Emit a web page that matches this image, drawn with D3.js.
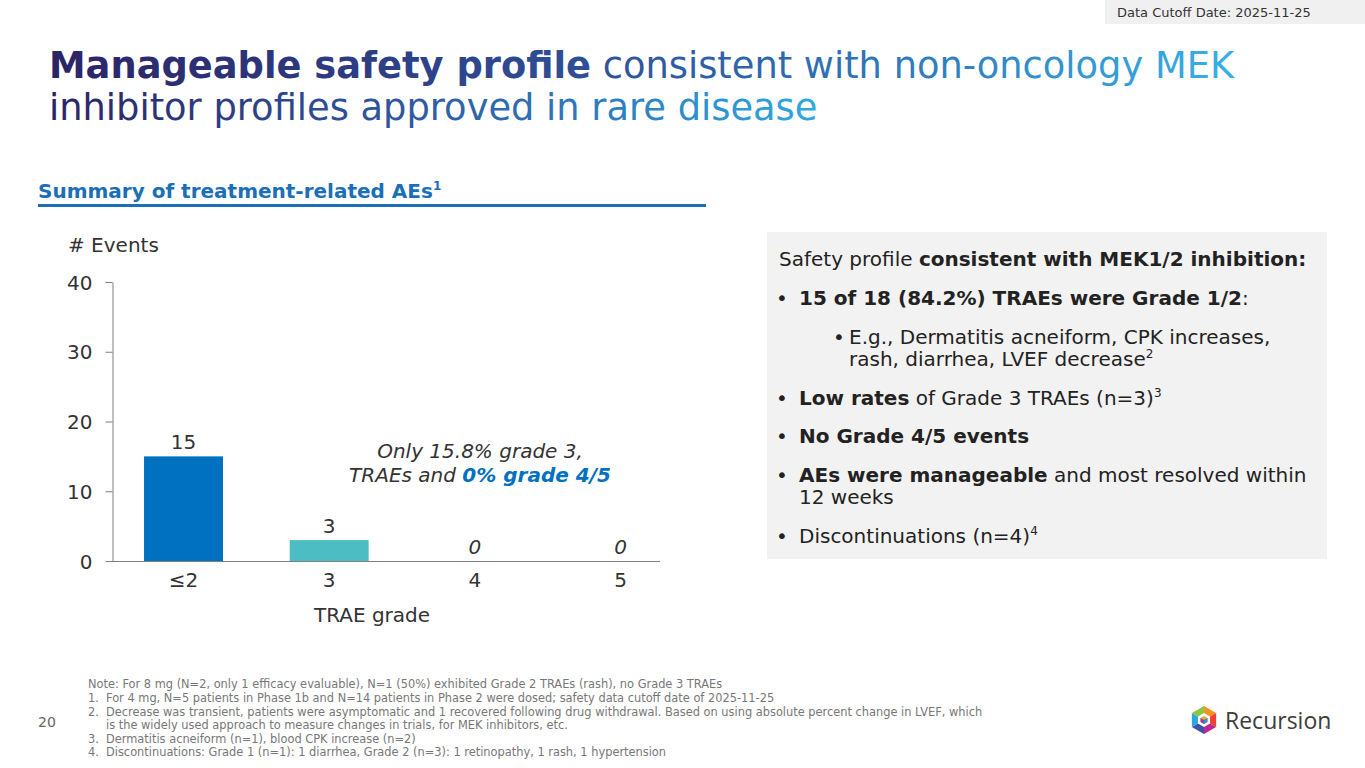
<!DOCTYPE html>
<html>
<head>
<meta charset="utf-8">
<script src="https://cdn.jsdelivr.net/npm/d3@7"></script>
<style>
  body { margin: 0; background: #fff; }
  svg text { font-family: "DejaVu Sans", Verdana, sans-serif; }
</style>
</head>
<body>
<div id="slide"></div>
<script>
// chart data
var grades = ["≤2", "3", "4", "5"];
var events = [15, 3, 0, 0];
var barColors = ["#0070c0", "#4dbdc4", "#0070c0", "#0070c0"];
var yTicks = [0, 10, 20, 30, 40];

var footnotes = [
  ["", "Note: For 8 mg (N=2, only 1 efficacy evaluable), N=1 (50%) exhibited Grade 2 TRAEs (rash), no Grade 3 TRAEs"],
  ["1.", "For 4 mg, N=5 patients in Phase 1b and N=14 patients in Phase 2 were dosed; safety data cutoff date of 2025-11-25"],
  ["2.", "Decrease was transient, patients were asymptomatic and 1 recovered following drug withdrawal. Based on using absolute percent change in LVEF, which"],
  ["", "is the widely used approach to measure changes in trials, for MEK inhibitors, etc."],
  ["3.", "Dermatitis acneiform (n=1), blood CPK increase (n=2)"],
  ["4.", "Discontinuations: Grade 1 (n=1): 1 diarrhea, Grade 2 (n=3): 1 retinopathy, 1 rash, 1 hypertension"]
];

var W = 1365, H = 768;

var svg = d3.select("#slide")
    .append("svg")
    .attr("width", W)
    .attr("height", H);

var defs = svg.append("defs");

function addGrad(id, stops) {
    var g = defs.append("linearGradient")
        .attr("id", id)
        .attr("x1", 0).attr("x2", 1).attr("y1", 0).attr("y2", 0);
    stops.forEach(function(s) {
        g.append("stop").attr("offset", s[0]).attr("stop-color", s[1]);
    });
}
addGrad("t1", [[0, "#2a2466"], [0.45, "#2f4f98"], [0.75, "#2e7fc0"], [1, "#38b0e6"]]);
addGrad("t2", [[0, "#2a2466"], [0.45, "#2f56a0"], [0.75, "#2e80c2"], [1, "#2fa8e0"]]);

// data cutoff tag
svg.append("rect")
    .attr("x", 1105).attr("y", 0)
    .attr("width", 260).attr("height", 24)
    .attr("fill", "#f0f0f0");
svg.append("text")
    .attr("x", 1117).attr("y", 17)
    .attr("font-size", 13)
    .attr("fill", "#333")
    .text("Data Cutoff Date: 2025-11-25");

// title
var t1 = svg.append("text")
    .attr("x", 49).attr("y", 78)
    .attr("font-size", 36.8)
    .attr("fill", "url(#t1)");
t1.append("tspan").attr("font-weight", "bold").text("Manageable safety profile");
t1.append("tspan").text(" consistent with non-oncology MEK");

svg.append("text")
    .attr("x", 49).attr("y", 120)
    .attr("font-size", 36.8)
    .attr("fill", "url(#t2)")
    .text("inhibitor profiles approved in rare disease");

// section header
var sh = svg.append("text")
    .attr("x", 38).attr("y", 198)
    .attr("font-size", 20)
    .attr("font-weight", "bold")
    .attr("fill", "#1a6fb8");
sh.append("tspan").text("Summary of treatment-related AEs");
sh.append("tspan").attr("font-size", 12).attr("dy", -8).text("1");

svg.append("line")
    .attr("x1", 38).attr("x2", 706)
    .attr("y1", 205.5).attr("y2", 205.5)
    .attr("stroke", "#1a6fb8")
    .attr("stroke-width", 3);

// ---- bar chart ----
var x = d3.scaleBand()
    .domain(grades)
    .range([113, 691])
    .paddingInner(0.458)
    .paddingOuter(0.213);

var y = d3.scaleLinear()
    .domain([0, 40])
    .range([561, 282]);

var chart = svg.append("g").attr("class", "chart");

chart.append("text")
    .attr("x", 68).attr("y", 252)
    .attr("font-size", 20)
    .attr("fill", "#333")
    .text("# Events");

var yAxis = chart.append("g")
    .attr("transform", "translate(112.5,0)")
    .call(d3.axisLeft(y).tickValues(yTicks).tickSize(7).tickSizeOuter(0).tickPadding(13));
yAxis.select(".domain").attr("stroke", "#7f7f7f");
yAxis.selectAll(".tick line").attr("stroke", "#7f7f7f");
yAxis.selectAll(".tick text")
    .attr("font-size", 20)
    .attr("dy", "0.36em")
    .attr("fill", "#333")
    .attr("font-family", "DejaVu Sans, sans-serif");

var rows = grades.map(function(g, i) {
    return { grade: g, value: events[i], color: barColors[i] };
});

chart.selectAll("rect.bar")
    .data(rows)
    .enter()
    .append("rect")
    .attr("class", "bar")
    .attr("x", function(d) { return x(d.grade); })
    .attr("y", function(d) { return y(d.value); })
    .attr("width", x.bandwidth())
    .attr("height", function(d) { return y(0) - y(d.value); })
    .attr("fill", function(d) { return d.color; });

// x axis line
chart.append("line")
    .attr("x1", 106)
    .attr("x2", x(grades[grades.length - 1]) + x.bandwidth())
    .attr("y1", y(0) + 0.5).attr("y2", y(0) + 0.5)
    .attr("stroke", "#7f7f7f");

// value labels
chart.selectAll("text.val")
    .data(rows)
    .enter()
    .append("text")
    .attr("class", "val")
    .attr("x", function(d) { return x(d.grade) + x.bandwidth() / 2; })
    .attr("y", function(d) { return y(d.value) - 7; })
    .attr("text-anchor", "middle")
    .attr("font-size", 20)
    .attr("font-style", function(d) { return d.value ? "normal" : "italic"; })
    .attr("fill", "#333")
    .text(function(d) { return d.value; });

// category labels
chart.selectAll("text.cat")
    .data(grades)
    .enter()
    .append("text")
    .attr("class", "cat")
    .attr("x", function(d) { return x(d) + x.bandwidth() / 2; })
    .attr("y", 587)
    .attr("text-anchor", "middle")
    .attr("font-size", 20)
    .attr("fill", "#333")
    .text(function(d) { return d; });

chart.append("text")
    .attr("x", 372).attr("y", 622)
    .attr("text-anchor", "middle")
    .attr("font-size", 20)
    .attr("fill", "#333")
    .text("TRAE grade");

// annotation
chart.append("text")
    .attr("x", 480).attr("y", 458)
    .attr("text-anchor", "middle")
    .attr("font-size", 20)
    .attr("font-style", "italic")
    .attr("fill", "#333")
    .text("Only 15.8% grade 3,");
var an = chart.append("text")
    .attr("x", 480).attr("y", 482)
    .attr("text-anchor", "middle")
    .attr("font-size", 20)
    .attr("font-style", "italic")
    .attr("fill", "#333");
an.append("tspan").text("TRAEs and ");
an.append("tspan").attr("font-weight", "bold").attr("fill", "#0070c0").text("0% grade 4/5");

// ---- right info box ----
svg.append("rect")
    .attr("x", 767).attr("y", 232)
    .attr("width", 560).attr("height", 327)
    .attr("fill", "#f2f2f2");

var boxLines = [
    { x: 779, y: 266, parts: [["Safety profile ", 0], ["consistent with MEK1/2 inhibition:", 1]] },
    { x: 799, y: 305, bullet: 776, parts: [["15 of 18 (84.2%) TRAEs were Grade 1/2", 1], [":", 0]] },
    { x: 849, y: 344, bullet: 833, parts: [["E.g., Dermatitis acneiform, CPK increases,", 0]] },
    { x: 849, y: 366, parts: [["rash, diarrhea, LVEF decrease", 0], ["2", 2]] },
    { x: 799, y: 405, bullet: 776, parts: [["Low rates", 1], [" of Grade 3 TRAEs (n=3)", 0], ["3", 2]] },
    { x: 799, y: 443, bullet: 776, parts: [["No Grade 4/5 events", 1]] },
    { x: 799, y: 482, bullet: 776, parts: [["AEs were manageable", 1], [" and most resolved within", 0]] },
    { x: 799, y: 504, parts: [["12 weeks", 0]] },
    { x: 799, y: 543, bullet: 776, parts: [["Discontinuations (n=4)", 0], ["4", 2]] }
];

boxLines.forEach(function(l) {
    if (l.bullet) {
        svg.append("text")
            .attr("x", l.bullet).attr("y", l.y)
            .attr("font-size", 20).attr("fill", "#222")
            .text("•");
    }
    var t = svg.append("text")
        .attr("x", l.x).attr("y", l.y)
        .attr("font-size", 20).attr("fill", "#222");
    l.parts.forEach(function(p) {
        var ts = t.append("tspan").text(p[0]);
        if (p[1] === 1) ts.attr("font-weight", "bold");
        if (p[1] === 2) ts.attr("font-size", 12).attr("dy", -8);
    });
});

// footnotes
var fnY = [688, 701.5, 715.5, 729, 742.5, 756];
var fn = svg.selectAll("g.fn")
    .data(footnotes)
    .enter()
    .append("g")
    .attr("class", "fn")
    .attr("transform", function(d, i) { return "translate(0," + fnY[i] + ")"; });
fn.append("text")
    .attr("x", 88)
    .attr("font-size", 11.4)
    .attr("fill", "#777")
    .text(function(d) { return d[0]; });
fn.append("text")
    .attr("x", function(d, i) { return i === 0 ? 88 : 106; })
    .attr("font-size", 11.4)
    .attr("fill", "#777")
    .text(function(d) { return d[1]; });

svg.append("text")
    .attr("x", 38).attr("y", 727)
    .attr("font-size", 14)
    .attr("fill", "#666")
    .text("20");

// ---- logo ----
var logo = svg.append("g").attr("transform", "translate(1204,720)");
var hexCols = ["#f7941d", "#ef4136", "#c2268e", "#3a53a4", "#27aae1", "#8dc63f"];
var R = 14;
d3.range(6).forEach(function(i) {
    var a0 = (i * 60 - 90) * Math.PI / 180, a1 = ((i + 1) * 60 - 90) * Math.PI / 180;
    logo.append("path")
        .attr("d", "M0,0L" + R * Math.cos(a0) + "," + R * Math.sin(a0) + "L" + R * Math.cos(a1) + "," + R * Math.sin(a1) + "Z")
        .attr("fill", hexCols[i]);
});
var r2 = 7;
logo.append("path")
    .attr("d", d3.range(6).map(function(i) {
        var a = (i * 60 - 90) * Math.PI / 180;
        return (i ? "L" : "M") + r2 * Math.cos(a) + "," + r2 * Math.sin(a);
    }).join("") + "Z")
    .attr("fill", "#fff");
logo.append("path")
    .attr("d", "M0,-4L3.5,-2L3.5,2L0,4L-3.5,2L-3.5,-2Z")
    .attr("fill", "#f5a623");
logo.append("path")
    .attr("d", "M0,0L3.5,-2L3.5,2L0,4Z")
    .attr("fill", "#2e8fd1");
logo.append("path")
    .attr("d", "M0,0L-3.5,-2L-3.5,2L0,4Z")
    .attr("fill", "#8e44ad");

svg.append("text")
    .attr("x", 1225).attr("y", 729)
    .attr("font-size", 23)
    .attr("fill", "#3d3d3d")
    .style("font-family", "'Open Sans', Lato, sans-serif")
    .text("Recursion");
svg.append("circle")
    .attr("cx", 1327).attr("cy", 727)
    .attr("r", 1.5)
    .attr("fill", "#777");
</script>
</body>
</html>
